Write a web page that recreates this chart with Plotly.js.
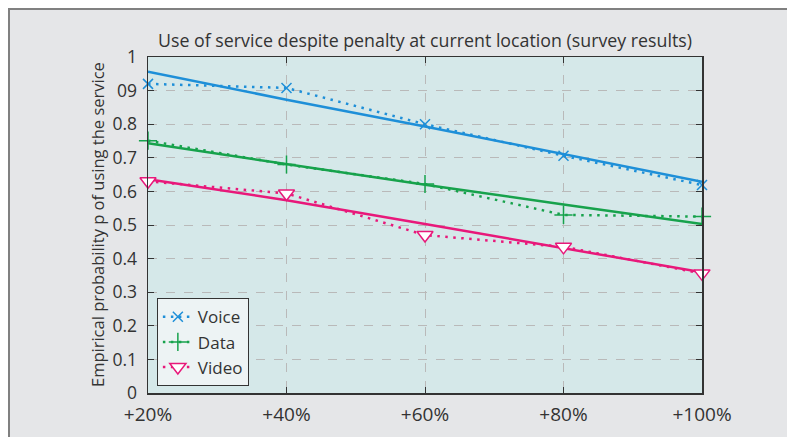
<!DOCTYPE html>
<html><head><meta charset="utf-8">
<script src="https://cdn.plot.ly/plotly-3.0.1.min.js"></script>
<style>
html,body{margin:0;padding:0;background:#fff;width:787px;height:437px;overflow:hidden;}
#frame{position:absolute;left:8px;top:8px;width:779px;height:429px;border-left:2px solid #808080;border-top:2px solid #808080;background:#e5e6e8;}
#chart{position:absolute;left:0;top:0;width:777px;height:427px;}
</style></head>
<body><div id="frame"><div id="chart"></div></div>
<script>
const xVals = [20, 40, 60, 80, 100];
const xTickText = ['+20%', '+40%', '+60%', '+80%', '+100%'];
const yTickVals = [0, 0.1, 0.2, 0.3, 0.4, 0.5, 0.6, 0.7, 0.8, 0.9, 1];
const yTickText = ['0', '0.1', '0.2', '0.3', '0.4', '0.5', '0.6', '0.7', '0.8', '09', '1'];
const voice = [0.92, 0.908, 0.80, 0.706, 0.619];
const voiceFit = [0.956, 0.873, 0.793, 0.71, 0.629];
const data = [0.751, 0.68, 0.622, 0.53, 0.525];
const dataFit = [0.743, 0.681, 0.62, 0.561, 0.503];
const video = [0.63, 0.594, 0.47, 0.435, 0.356];
const videoFit = [0.636, 0.574, 0.503, 0.432, 0.359];

const cBlue = '#1e8fd8', cGreen = '#17a24c', cPink = '#e8187a';
const dotDash = '2.5px,5.5px';
function fit(y, c){ return {x:xVals, y:y, mode:'lines', line:{color:c, width:2.5}, showlegend:false, hoverinfo:'skip', cliponaxis:false}; }
const traces = [
  fit(voiceFit, cBlue), fit(dataFit, cGreen), fit(videoFit, cPink),
  {x:xVals, y:voice, name:'Voice', mode:'lines+markers', line:{color:cBlue, width:2.5, dash:dotDash},
   marker:{symbol:'x-thin-open', size:10, color:cBlue, line:{color:cBlue, width:1.5}}, cliponaxis:false},
  {x:xVals, y:data, name:'Data', mode:'lines+markers', line:{color:cGreen, width:2.5, dash:dotDash},
   marker:{symbol:'cross-thin-open', size:13, color:cGreen, line:{color:cGreen, width:1.5}}, cliponaxis:false},
  {x:xVals, y:video, name:'Video', mode:'lines+markers', line:{color:cPink, width:2.5, dash:dotDash},
   marker:{symbol:'triangle-down', size:14, color:'#ffffff', line:{color:cPink, width:1.5}}, cliponaxis:false}
];
const font = {family:'"Open Sans", "Noto Sans", sans-serif', color:'#333333'};
const layout = {
  width:777, height:427,
  margin:{l:138, r:85, t:47, b:44, pad:0},
  paper_bgcolor:'#e5e6e8', plot_bgcolor:'#d5e8e9',
  font:Object.assign({size:19}, font),
  title:{text:'Use of service despite penalty at current location (survey results)', font:Object.assign({size:17.8}, font), x:0.5, xref:'paper', xanchor:'center', y:0.927, yref:'container', yanchor:'middle'},
  xaxis:{range:[20,100], tickvals:xVals, ticktext:xTickText, ticks:'inside', ticklen:6, tickcolor:'#333',
    showline:true, linecolor:'#333', linewidth:1.5, mirror:'ticks', showgrid:true, gridcolor:'#b9b9b9', griddash:'dash', gridwidth:1,
    zeroline:false, tickfont:Object.assign({size:19}, font), fixedrange:true, ticklabelstandoff:4},
  yaxis:{range:[0,1], tickvals:yTickVals, ticktext:yTickText, ticks:'inside', ticklen:6, tickcolor:'#333',
    showline:true, linecolor:'#333', linewidth:1.5, mirror:'ticks', showgrid:true, gridcolor:'#b9b9b9', griddash:'dash', gridwidth:1,
    zeroline:false, tickfont:Object.assign({size:17.5}, font), fixedrange:true, ticklabelstandoff:6},
  legend:{x:0.016, y:0.02, xanchor:'left', yanchor:'bottom', bgcolor:'#edf3f4', bordercolor:'#333', borderwidth:1,
    font:Object.assign({size:17}, font), tracegroupgap:0, itemwidth:30},
  annotations:[{text:'Empirical probability p of using the service', xref:'paper', yref:'paper', x:0, y:0.5,
    xanchor:'center', yanchor:'middle', xshift:-51, textangle:-90, showarrow:false, font:Object.assign({size:16.5}, font)}]
};
Plotly.newPlot('chart', traces, layout, {displayModeBar:false, staticPlot:true});
</script></body></html>
